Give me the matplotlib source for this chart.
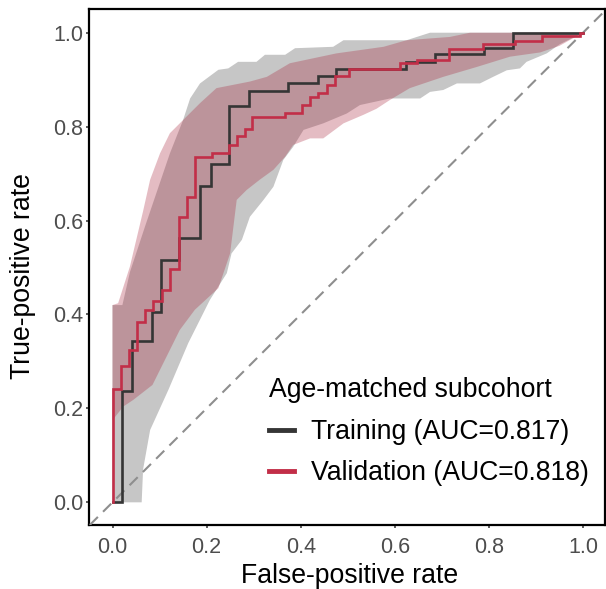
import matplotlib
matplotlib.use("Agg")
import matplotlib.pyplot as plt
from matplotlib.lines import Line2D

plt.rcParams['font.family'] = ['Liberation Sans', 'DejaVu Sans']

# ROC curve vertices (false-positive rate, true-positive rate)
train_fpr = [0, .021, .021, .042, .042, .083, .083, .103, .103, .142, .142, .187, .187, .209, .209,
             .248, .248, .291, .291, .374, .374, .436, .436, .476, .476, .624, .624, .686, .686,
             .790, .790, .852, .852, 1.0]
train_tpr = [0, 0, .236, .236, .344, .344, .406, .406, .516, .516, .562, .562, .674, .674, .720,
             .720, .844, .844, .876, .876, .892, .892, .908, .908, .922, .922, .938, .938, .955,
             .955, .968, .968, 1.0, 1.0]

valid_fpr = [0, 0, .0175, .0175, .035, .035, .052, .052, .070, .070, .087, .087, .105, .105, .122,
             .122, .141, .141, .158, .158, .175, .175, .211, .211, .247, .247, .265, .265, .282,
             .282, .297, .297, .367, .367, .402, .402, .420, .420, .437, .437, .455, .455, .473,
             .473, .503, .503, .611, .611, .647, .647, .716, .716, .787, .787, .855, .855, .912,
             .912, .994, .994, 1.0]
valid_tpr = [0, .241, .241, .291, .291, .324, .324, .384, .384, .410, .410, .428, .428, .453, .453,
             .496, .496, .607, .607, .651, .651, .736, .736, .743, .743, .761, .761, .779, .779,
             .796, .796, .821, .821, .829, .829, .846, .846, .864, .864, .872, .872, .889, .889,
             .908, .908, .922, .922, .935, .935, .942, .942, .966, .966, .976, .976, .983, .983,
             .993, .993, 1.0, 1.0]

# Confidence bands (sensitivity CI)
train_up_fpr = [0, .021, .037, .069, .105, .122, .150, .165, .186, .225, .246, .267, .306, .324,
                .367, .388, .469, .491, .625, .675, 1.0]
train_up_tpr = [.42, .42, .49, .587, .693, .743, .814, .86, .892, .921, .924, .938, .938, .953,
                .953, .967, .970, .984, .984, 1.0, 1.0]
train_lo_fpr = [0, .062, .065, .080, .119, .161, .207, .243, .253, .275, .292, .321, .342, .363,
                .384, .406, .448, .498, .526, .590, .654, .675, .703, .732, .781, .809, .838,
                .866, .880, .923, .95, 1.0]
train_lo_tpr = [0, 0, .07, .154, .24, .339, .431, .488, .530, .559, .608, .644, .672, .729,
                .757, .793, .807, .828, .846, .860, .860, .874, .878, .892, .892, .906, .920,
                .924, .938, .956, .975, 1.0]

valid_up_fpr = [0, .012, .037, .065, .080, .101, .122, .143, .186, .221, .292, .328, .377, .476,
                .576, .625, .717, .76, 1.0]
valid_up_tpr = [.42, .424, .502, .62, .687, .743, .786, .807, .850, .882, .896, .906, .935, .956,
                .970, .984, .991, 1.0, 1.0]
valid_lo_fpr = [0, .023, .044, .085, .143, .175, .225, .250, .264, .285, .313, .342, .367, .384,
                .420, .448, .491, .533, .561, .590, .632, .703, .774, .845, .909, .95, 1.0]
valid_lo_tpr = [.175, .204, .218, .25, .367, .410, .456, .530, .644, .665, .687, .708, .736, .761,
                .775, .775, .807, .825, .838, .857, .882, .906, .927, .949, .958, .972, 1.0]

labels = ["Training (AUC=0.817)", "Validation (AUC=0.818)"]
legend_title = "Age-matched subcohort"
ticks = [0.0, 0.2, 0.4, 0.6, 0.8, 1.0]
tick_labels = ["0.0", "0.2", "0.4", "0.6", "0.8", "1.0"]

BLACK = "#353535"
RED = "#C22E48"

W, H = 606, 589
fig = plt.figure(figsize=(W / 100, H / 100), dpi=100)
ax = fig.add_axes([89 / W, (H - 525) / H, 516 / W, 516 / H])

ax.fill(train_up_fpr + train_lo_fpr[::-1], train_up_tpr + train_lo_tpr[::-1],
        color="#C6C6C6", lw=0, zorder=1)
ax.fill(valid_up_fpr + valid_lo_fpr[::-1], valid_up_tpr + valid_lo_tpr[::-1],
        color="#A8223A", alpha=0.30, lw=0, zorder=2)

ax.axline((0, 0), (1, 1), color="#8E8E8E", lw=1.5, dashes=(5.5, 3.5), zorder=3)

ax.plot(train_fpr, train_tpr, color=BLACK, lw=1.9, zorder=4, solid_joinstyle='miter')
ax.plot(valid_fpr, valid_tpr, color=RED, lw=1.9, zorder=5, solid_joinstyle='miter')

ax.set_xlim(-0.04995, 1.0468)
ax.set_ylim(-0.0483, 1.0505)
ax.set_xticks(ticks)
ax.set_xticklabels(tick_labels)
ax.set_yticks(ticks)
ax.set_yticklabels(tick_labels)
ax.tick_params(axis='both', length=2.2, width=1.1, color="#333333", labelcolor="#4D4D4D",
               labelsize=15.5)
ax.tick_params(axis='x', pad=6.2)
ax.tick_params(axis='y', pad=1.8)
for s in ax.spines.values():
    s.set_linewidth(1.6)
    s.set_color("black")

ax.set_xlabel("False-positive rate", fontsize=19.2, color="black")
ax.set_ylabel("True-positive rate", fontsize=19.2, color="black")
ax.xaxis.set_label_coords(0.5058, (525 - 563) / 516)
ax.yaxis.set_label_coords((36 - 89) / 516, 0.482)

# legend title and entries
fig.text(269 / W, 1 - 390 / H, legend_title, fontsize=19.2, ha='left', va='center',
         color='black')
handles = [Line2D([], [], color=BLACK, lw=3.5), Line2D([], [], color=RED, lw=3.5)]
leg = ax.legend(handles, labels, loc='upper left',
                bbox_to_anchor=((269 - 89) / 516, (525 - 419) / 516),
                frameon=False, fontsize=19.2, handlelength=0.95,
                handletextpad=0.62, labelspacing=0.56, borderaxespad=0, borderpad=0)

fig.savefig("out.png", dpi=100)
